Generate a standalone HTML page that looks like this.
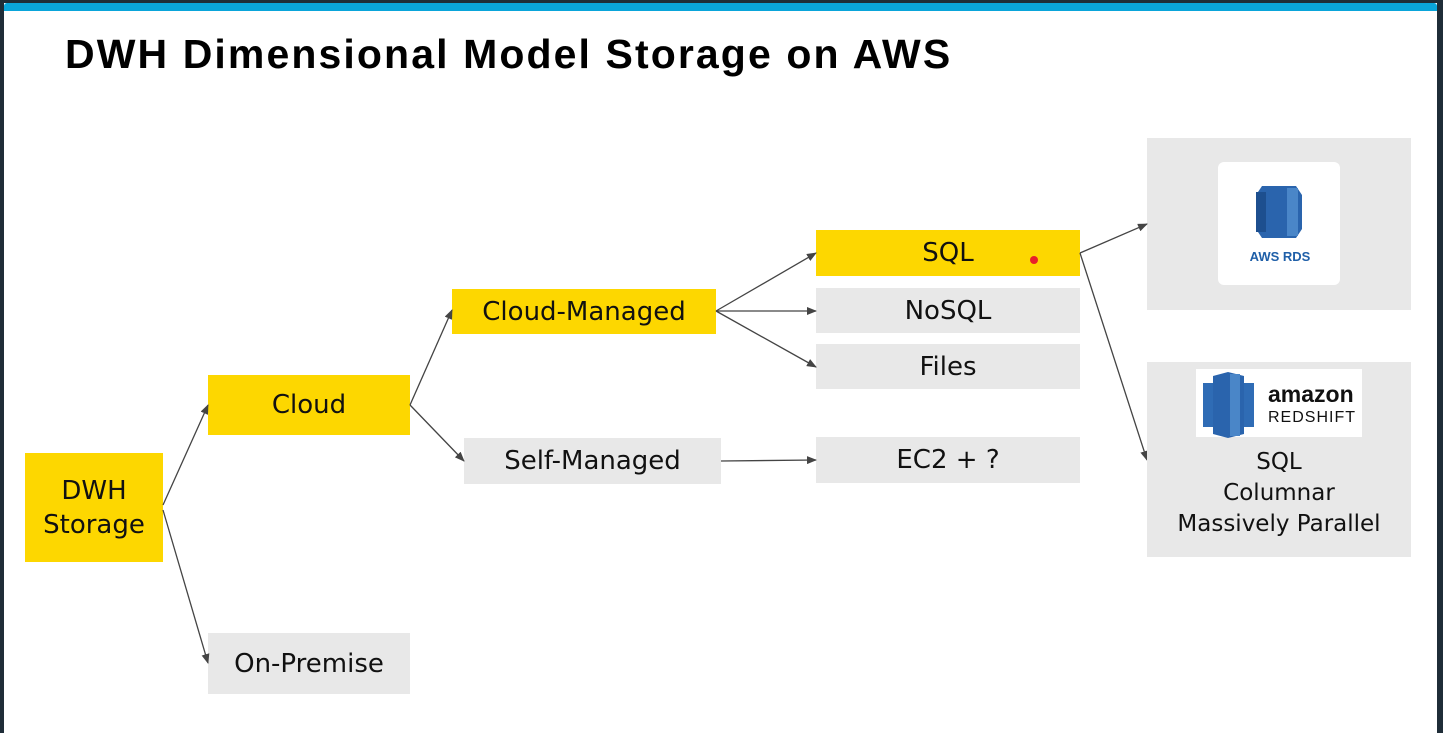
<!DOCTYPE html>
<html><head><meta charset="utf-8"><style>
body{margin:0;width:1443px;height:733px;background:#1f2d38;position:relative;overflow:hidden;font-family:"Liberation Sans",sans-serif}
.page{position:absolute;left:4px;top:3px;width:1433px;height:730px;background:#fff}
.bar{position:absolute;left:4px;top:3px;width:1433px;height:8px;background:#0aa5da;border-radius:3px 3px 0 0}
h1{position:absolute;left:65px;top:31px;margin:0;font-size:41px;font-weight:bold;color:#000;letter-spacing:2.1px}
.b{position:absolute;display:flex;align-items:center;justify-content:center;text-align:center;font-family:"DejaVu Sans",sans-serif;font-size:26px;color:#111;line-height:34px}
.y{background:#fdd700}.g{background:#e8e8e8}
svg{position:absolute;left:0;top:0}
</style></head><body>
<div class="page"></div><div class="bar"></div>
<h1>DWH Dimensional Model Storage on AWS</h1>
<div class="b y" style="left:25px;top:453px;width:138px;height:109px">DWH<br>Storage</div>
<div class="b y" style="left:208px;top:375px;width:202px;height:60px">Cloud</div>
<div class="b g" style="left:208px;top:633px;width:202px;height:61px">On-Premise</div>
<div class="b y" style="left:452px;top:289px;width:264px;height:45px">Cloud-Managed</div>
<div class="b g" style="left:464px;top:438px;width:257px;height:46px">Self-Managed</div>
<div class="b y" style="left:816px;top:230px;width:264px;height:46px">SQL</div>
<div class="b g" style="left:816px;top:288px;width:264px;height:45px">NoSQL</div>
<div class="b g" style="left:816px;top:344px;width:264px;height:45px">Files</div>
<div class="b g" style="left:816px;top:437px;width:264px;height:46px">EC2 + ?</div>
<div class="b g" style="left:1147px;top:138px;width:264px;height:172px"></div>
<div style="position:absolute;left:1218px;top:162px;width:122px;height:123px;background:#fff;border-radius:6px"></div>
<svg width="1443" height="733">
<defs><marker id="a" markerWidth="10" markerHeight="8" refX="9" refY="4" orient="auto" markerUnits="userSpaceOnUse"><path d="M0,0 L10,4 L0,8 Z" fill="#444"/></marker></defs>
<g stroke="#444" stroke-width="1.3" fill="none" marker-end="url(#a)">
<line x1="163" y1="505" x2="208" y2="405"/>
<line x1="163" y1="510" x2="208" y2="663"/>
<line x1="410" y1="405" x2="452" y2="310"/>
<line x1="410" y1="405" x2="464" y2="461"/>
<line x1="716" y1="311" x2="816" y2="253"/>
<line x1="716" y1="311" x2="816" y2="311"/>
<line x1="716" y1="311" x2="816" y2="367"/>
<line x1="721" y1="461" x2="816" y2="460"/>
<line x1="1080" y1="253" x2="1147" y2="224"/>
<line x1="1080" y1="253" x2="1147" y2="460"/>
</g>
<circle cx="1034" cy="260" r="4" fill="#e8202a"/>
<path d="M1256,195 L1262,186 L1296,186 L1302,195 L1302,229 L1296,238 L1262,238 L1256,229 Z" fill="#2a64ad"/>
<rect x="1256" y="192" width="10" height="40" fill="#1d4f8f"/>
<rect x="1287" y="188" width="11" height="48" fill="#4a86c8"/>
<text x="1280" y="261" font-family="Liberation Sans" font-weight="bold" font-size="13" fill="#1f5fa8" text-anchor="middle">AWS RDS</text>
</svg>
<div class="b g" style="left:1147px;top:362px;width:264px;height:195px"></div>
<div style="position:absolute;left:1196px;top:369px;width:166px;height:68px;background:#fff"></div>
<svg width="1443" height="733">
<rect x="1203" y="383" width="12" height="44" fill="#2f6cb5"/>
<rect x="1242" y="383" width="12" height="44" fill="#2f6cb5"/>
<path d="M1213,376 L1228,372 L1244,376 L1244,434 L1228,438 L1213,434 Z" fill="#2a64ad"/>
<rect x="1230" y="374" width="10" height="62" fill="#4a86c8"/>
<text x="1268" y="402" font-family="Liberation Sans" font-weight="bold" font-size="23" fill="#111">amazon</text>
<text x="1268" y="422" font-family="Liberation Sans" font-size="16" fill="#111" letter-spacing="1">REDSHIFT</text>
</svg>
<div class="b" style="left:1147px;top:446px;width:264px;height:95px;font-size:23px;line-height:31px">SQL<br>Columnar<br>Massively Parallel</div>
</body></html>
